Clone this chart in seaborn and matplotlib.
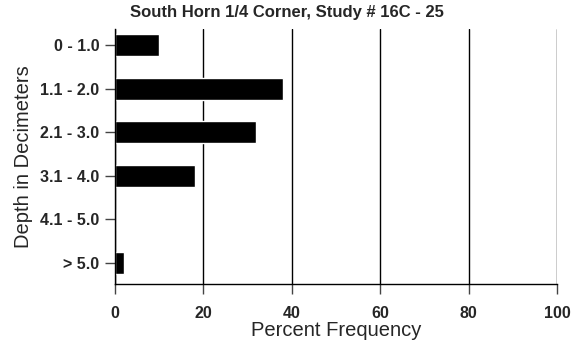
import matplotlib
matplotlib.use("Agg")
import matplotlib.pyplot as plt
import seaborn as sns
import pandas as pd

# values
depths = ["0 - 1.0", "1.1 - 2.0", "2.1 - 3.0", "3.1 - 4.0", "4.1 - 5.0", "> 5.0"]
percent = [10, 38, 32, 18, 0, 2]
xticks = [0, 20, 40, 60, 80, 100]

df = pd.DataFrame({"depth": depths, "percent": percent})

sns.set_style("white")
plt.rcParams["font.family"] = ["Liberation Sans", "DejaVu Sans"]

fig = plt.figure(figsize=(5.74, 3.5), dpi=100)
ax = fig.add_axes([0.2003, 0.1886, 0.7701, 0.7285])

sns.barplot(data=df, x="percent", y="depth", order=depths, color="black",
            saturation=1, width=0.5, ax=ax)

ax.set_xlim(0, 100)
ax.set_ylim(5.48, -0.37)
ax.set_xticks(xticks)
ax.xaxis.grid(True, color="black", linewidth=1)
ax.set_axisbelow(True)

for s in ["top", "right"]:
    ax.spines[s].set_visible(False)
for s in ["left", "bottom"]:
    ax.spines[s].set_color("black")
    ax.spines[s].set_linewidth(1)

ax.tick_params(axis="y", length=7.2, width=1, color="#444444", direction="out",
               left=True, pad=4)
ax.tick_params(axis="x", length=7.2, width=1, color="#444444", direction="out",
               bottom=True, pad=8.5)
for lab in ax.get_yticklabels() + ax.get_xticklabels():
    lab.set_fontweight("bold")
    lab.set_fontsize(11.5)

ax.set_xlabel("Percent Frequency", fontsize=14.5, labelpad=0)
ax.set_ylabel("Depth in Decimeters", fontsize=14.5, labelpad=5)
fig.suptitle("South Horn 1/4 Corner, Study # 16C - 25", fontsize=12,
             fontweight="bold", x=0.5, y=0.985)

fig.savefig("out.png", dpi=100)
